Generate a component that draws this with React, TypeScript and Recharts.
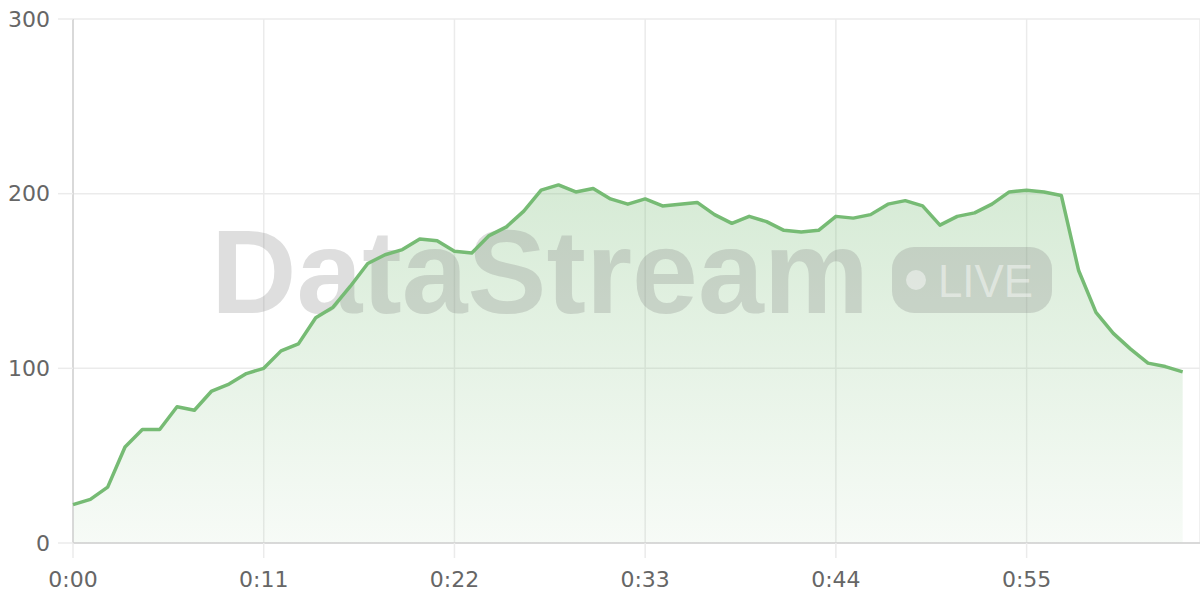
import React from "react";
import {
  AreaChart,
  Area,
  LineChart,
  Line,
  XAxis,
  YAxis,
  CartesianGrid,
} from "recharts";

const SECONDS = Array.from({ length: 65 }, (_, i) => i);
const VIEWERS = [
  22, 25, 32, 55, 65, 65, 78, 76, 87, 91, 97, 100, 110, 114, 129, 135, 147, 160,
  165, 168, 174, 173, 167, 166, 176, 181, 190, 202, 205, 201, 203, 197, 194, 197,
  193, 194, 195, 188, 183, 187, 184, 179, 178, 179, 187, 186, 188, 194, 196, 193,
  182, 187, 189, 194, 201, 202, 201, 199, 156, 132, 120, 111, 103, 101, 98,
];
const X_TICKS = [0, 11, 22, 33, 44, 55];
const Y_TICKS = [0, 100, 200, 300];

const data = SECONDS.map((t, i) => ({ t, viewers: VIEWERS[i] }));

const W = 1200;
const H = 600;
const LINE = "#76bb74";
const GRID = "#ebebeb";
const AXIS = "#d2d2d2";
const LABEL = "#666666";
const FONT = "'DejaVu Sans', sans-serif";

const fmtTime = (v: number) => `0:${String(v).padStart(2, "0")}`;

// watermark sits between the area fill and the line
function Watermark() {
  return (
    <svg
      width={W}
      height={H}
      style={{ position: "absolute", left: 0, top: 0, pointerEvents: "none" }}
    >
      <g fill="#808080" fillOpacity={0.26}>
        <text
          x={211}
          y={313}
          fontFamily="'Liberation Sans', Arial, sans-serif"
          fontWeight={700}
          fontSize={118}
          textLength={658}
          lengthAdjust="spacingAndGlyphs"
        >
          DataStream
        </text>
        <rect x={892} y={247} width={160} height={66} rx={22} />
      </g>
      <g fill="#ffffff" fillOpacity={0.45}>
        <circle cx={916} cy={280} r={10} />
        <text
          x={938}
          y={297}
          fontFamily="'Liberation Sans', Arial, sans-serif"
          fontSize={47}
          textLength={95}
          lengthAdjust="spacingAndGlyphs"
        >
          LIVE
        </text>
      </g>
    </svg>
  );
}

export default function App() {
  return (
    <div style={{ position: "absolute", left: 0, top: 0, width: W, height: H, background: "#fff" }}>
      <div style={{ position: "absolute", left: 0, top: 0 }}>
        <AreaChart width={W} height={H} data={data} margin={{ top: 19, right: 0, left: 0, bottom: 0 }}>
          <defs>
            <linearGradient id="fillGreen" x1="0" y1="0" x2="0" y2="1">
              <stop offset="0%" stopColor={LINE} stopOpacity={0.3} />
              <stop offset="100%" stopColor={LINE} stopOpacity={0.06} />
            </linearGradient>
          </defs>
          <CartesianGrid stroke={GRID} strokeWidth={1.5} />
          <XAxis
            dataKey="t"
            type="number"
            domain={[0, 65]}
            ticks={X_TICKS}
            tickFormatter={fmtTime}
            height={57}
            tickSize={15}
            tickMargin={13}
            stroke={AXIS}
            strokeWidth={1.5}
            tickLine={{ stroke: GRID, strokeWidth: 1.5 }}
            tick={{ fill: LABEL, fontSize: 22, fontFamily: FONT }}
            interval={0}
          />
          <YAxis
            domain={[0, 300]}
            ticks={Y_TICKS}
            width={73}
            tickSize={15}
            tickMargin={8}
            stroke={AXIS}
            strokeWidth={1.5}
            tickLine={{ stroke: GRID, strokeWidth: 1.5 }}
            tick={{ fill: LABEL, fontSize: 22, fontFamily: FONT }}
            interval={0}
          />
          <Area
            type="linear"
            dataKey="viewers"
            stroke="none"
            fill="url(#fillGreen)"
            fillOpacity={1}
            isAnimationActive={false}
            dot={false}
            activeDot={false}
          />
        </AreaChart>
      </div>
      <Watermark />
      <div style={{ position: "absolute", left: 0, top: 0 }}>
        <LineChart width={W} height={H} data={data} margin={{ top: 19, right: 0, left: 73, bottom: 57 }}>
          <XAxis dataKey="t" type="number" domain={[0, 65]} hide />
          <YAxis domain={[0, 300]} hide />
          <Line
            type="linear"
            dataKey="viewers"
            stroke={LINE}
            strokeWidth={3.5}
            strokeLinejoin="round"
            dot={false}
            activeDot={false}
            isAnimationActive={false}
          />
        </LineChart>
      </div>
    </div>
  );
}
